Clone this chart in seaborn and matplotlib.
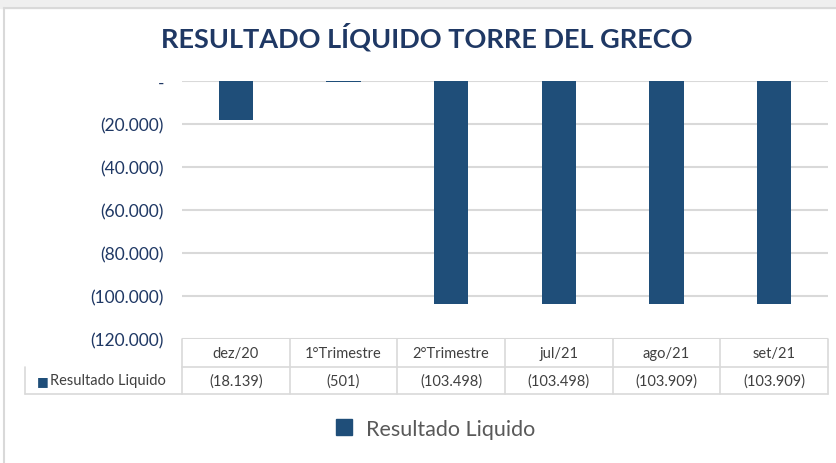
import matplotlib
matplotlib.use("Agg")
import matplotlib.pyplot as plt
import seaborn as sns
import pandas as pd
from matplotlib.lines import Line2D
from matplotlib.patches import Rectangle

# data
categories = ["dez/20", "1°Trimestre", "2°Trimestre", "jul/21", "ago/21", "set/21"]
values = [-18139, -501, -103498, -103498, -103909, -103909]
series_name = "Resultado Liquido"
yticks = [0, -20000, -40000, -60000, -80000, -100000, -120000]

bar_color = "#1F4E79"
text_color = "#1F3864"
grid_color = "#D9D9D9"

sns.set_theme(style="white")
plt.rcParams["font.family"] = ["Lato", "DejaVu Sans"]

def acct(v):
    if v == 0:
        return "-"
    s = f"{abs(v):,}".replace(",", ".")
    return f"({s})" if v < 0 else s

df = pd.DataFrame({"periodo": categories, "valor": values})

fig = plt.figure(figsize=(8.36, 4.64), dpi=100)
W, H = 836, 464
# chart frame (gray band on top, border on left)
fig.patches.append(Rectangle((0, (H - 9) / H), 1, 9 / H, transform=fig.transFigure,
                             color="#EFEFEF", zorder=0))
fig.lines.append(Line2D([4 / W, 4 / W], [0, (H - 9) / H], transform=fig.transFigure,
                        color=grid_color, lw=1.5))
fig.lines.append(Line2D([4 / W, 1], [(H - 9) / H, (H - 9) / H], transform=fig.transFigure,
                        color=grid_color, lw=1.5))

left, right, top, bottom = 182, 828, 82, 340
ax = fig.add_axes([left / W, (H - bottom) / H, (right - left) / W, (bottom - top) / H])

sns.barplot(data=df, x="periodo", y="valor", color=bar_color, width=0.32,
            saturation=1, linewidth=0, ax=ax, zorder=3)
ax.set_ylim(-120000, 0)
ax.set_yticks(yticks)
ax.set_yticklabels([acct(t) for t in yticks], color=text_color, fontsize=12.5)
ax.tick_params(axis="y", length=0, pad=13)
ax.set_xticks([])
ax.set_xlabel("")
ax.set_ylabel("")
for t in yticks:
    ax.axhline(t, color=grid_color, lw=1.5, zorder=1)
for s in ax.spines.values():
    s.set_visible(False)

# data table under the plot
n = len(categories)
row_h1 = 28 / (bottom - top)
row_h2 = 27 / (bottom - top)
lab_x = (25 - left) / (right - left)
tk = dict(transform=ax.transAxes, clip_on=False, color=grid_color, lw=1.2)
y0, y1, y2 = 0, -row_h1, -row_h1 - row_h2
ax.add_line(Line2D([0, 1], [y1, y1], **tk))
ax.add_line(Line2D([lab_x, 1], [y2, y2], **tk))
ax.add_line(Line2D([lab_x, lab_x], [y1, y2], **tk))
for i in range(n + 1):
    ax.add_line(Line2D([i / n, i / n], [y0, y2], **tk))
for i, (c, v) in enumerate(zip(categories, values)):
    xc = (i + 0.5) / n
    ax.text(xc, (y0 + y1) / 2, c, transform=ax.transAxes, ha="center", va="center",
            fontsize=10.5, color="#404040")
    ax.text(xc, (y1 + y2) / 2, acct(v), transform=ax.transAxes, ha="center", va="center",
            fontsize=10.5, color="#404040")
ax.text(lab_x + 0.018, (y1 + y2) / 2, "■", transform=ax.transAxes, ha="left",
        va="center", fontsize=9, color=bar_color, family="DejaVu Sans")
ax.text(lab_x + 0.038, (y1 + y2) / 2, series_name, transform=ax.transAxes, ha="left",
        va="center", fontsize=10.5, color="#404040")

# legend
handle = Line2D([], [], marker="s", linestyle="", color=bar_color, markersize=11)
fig.legend([handle], [series_name], loc="center", bbox_to_anchor=(429 / W, (H - 430) / H),
           frameon=False, fontsize=15.5, handletextpad=0.05, labelcolor="#595959")

fig.text(427 / W, (H - 37) / H, "RESULTADO LÍQUIDO TORRE DEL GRECO", ha="center",
         va="center", fontsize=19.5, fontweight="bold", color=text_color)

fig.savefig("out.png", dpi=100)
